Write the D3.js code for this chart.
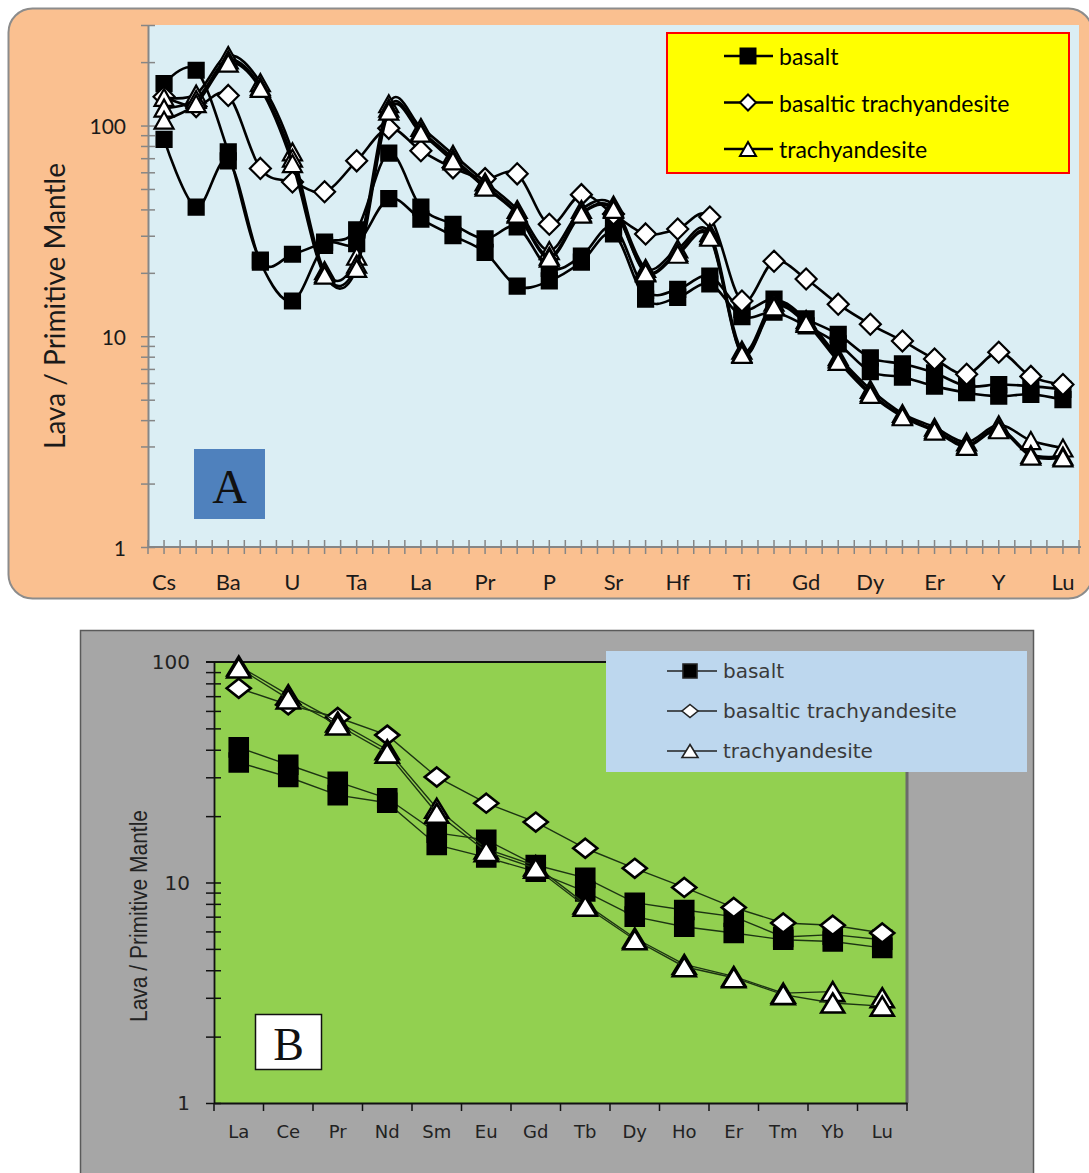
<!DOCTYPE html>
<html>
<head>
<meta charset="utf-8">
<script src="https://cdn.jsdelivr.net/npm/d3@7"></script>
<style>
  html, body { margin: 0; padding: 0; background: #ffffff; }
  svg { display: block; }
</style>
</head>
<body>
<svg id="chart" width="1089" height="1173"></svg>
<script>
// ---------- Panel A: multi-element spider diagram ----------
const elementsA = ["Cs","Rb","Ba","Th","U","Nb","Ta","K","La","Ce","Pr","Pb","P","Nd","Sr",
                   "Sm","Hf","Zr","Ti","Eu","Gd","Tb","Dy","Ho","Er","Tm","Y","Yb","Lu"];
const tickLabelsA = ["Cs","Ba","U","Ta","La","Pr","P","Sr","Hf","Ti","Gd","Dy","Er","Y","Lu"];

const basaltA1 = [158,183,75,23,24.5,28,32,74,41,34,29,33,21,24,33,16.5,16.7,19.3,13.4,15,12.1,10.2,7.9,7.4,6.7,5.8,5.9,5.8,5.6];
const basaltA2 = [86,41,68,22.5,14.7,27,27.5,45,36,30,25,17.3,18.3,22.5,30.6,15,15.3,17.7,12.4,13,11.2,9.2,6.8,6.4,5.8,5.4,5.2,5.3,5.0];
const btaA     = [137,123,139,62.6,54,48.5,68,97,76,63,56,59,34,47,38,30.6,32.3,36.8,14.7,22.7,18.7,14.2,11.4,9.5,7.8,6.6,8.4,6.45,5.9];
const taA1     = [136,141,215,160,75,20.5,24,127,98,73,54,40,25.5,40,42,21,26,31,8.6,14.5,12,8.0,5.6,4.3,3.7,3.15,3.8,3.2,2.95];
const taA2     = [121,133,205,153,70,19.8,22,121,94,70,52,38.5,24,38.5,40.5,20.2,25,30,8.3,14,11.7,7.8,5.4,4.2,3.6,3.05,3.65,2.75,2.7];
const taA3     = [106,127,198,150,66,19.5,21,117,92,68,51,38,23.5,38,40,20,24.5,29.5,8.2,13.8,11.5,7.6,5.3,4.15,3.55,3.0,3.6,2.7,2.65];

// ---------- Panel B: rare earth elements ----------
const elementsB = ["La","Ce","Pr","Nd","Sm","Eu","Gd","Tb","Dy","Ho","Er","Tm","Yb","Lu"];
const basaltB1 = [41,34.2,28.6,24.1,16.8,15.6,12,10.5,8.1,7.5,7.0,5.66,5.8,5.5];
const basaltB2 = [35,30.1,24.9,23,14.8,13,11.2,9.1,7.0,6.3,5.9,5.5,5.4,5.05];
const btaB     = [76,64,56,46.6,30.1,22.9,18.8,14.3,11.6,9.5,7.7,6.55,6.4,5.9];
const taB1     = [96,71,53.5,40,21.7,14.2,11.9,8.0,5.6,4.25,3.75,3.15,3.2,3.0];
const taB2     = [94,68,51.8,38.6,20.6,13.8,11.6,7.8,5.5,4.15,3.7,3.1,2.84,2.75];

const rockTypes = ["basalt","basaltic trachyandesite","trachyandesite"];
const yTickLabels = [1, 10, 100];
const yTitle = "Lava / Primitive Mantle";

const svg = d3.select("#chart");

// marker shapes centred on (0,0)
function markerPath(kind, w, h) {
  if (kind === "square") return `M${-w/2},${-h/2}h${w}v${h}h${-w}Z`;
  if (kind === "diamond") return `M0,${-h/2}L${w/2},0L0,${h/2}L${-w/2},0Z`;
  return `M0,${-h/2}L${w/2},${h/2}L${-w/2},${h/2}Z`;
}
const kindOf = { "basalt": "square", "basaltic trachyandesite": "diamond", "trachyandesite": "triangle" };

function minorLogTicks(lo, hi) {
  const t = [];
  for (let d = 1; d < hi; d *= 10)
    for (let m = 1; m <= 9; m++) { const v = m * d; if (v >= lo && v <= hi + 1e-9) t.push(v); }
  return t;
}

// ================= PANEL A =================
(function panelA() {
  const g = svg.append("g");
  g.append("rect").attr("x", 8.5).attr("y", 8.5).attr("width", 1084).attr("height", 590)
    .attr("rx", 24).attr("fill", "#fac090").attr("stroke", "#8c8c8c").attr("stroke-width", 2);

  const left = 148, right = 1079, top = 25, bottom = 547;
  g.append("rect").attr("x", left).attr("y", top).attr("width", right - left).attr("height", bottom - top)
    .attr("fill", "#dbeef4");

  const x = d3.scaleBand().domain(elementsA).range([left, right]);
  const cx = d => x(d) + x.bandwidth() / 2;
  const y = d3.scaleLog().domain([1, 300]).range([bottom, top]);

  // y axis
  const yAxis = d3.axisLeft(y).tickValues(minorLogTicks(1, 300)).tickSize(0).tickFormat("");
  const ya = g.append("g").attr("transform", `translate(${left},0)`).call(yAxis);
  ya.select(".domain").attr("stroke", "#868686").attr("stroke-width", 2);
  ya.selectAll(".tick line").remove();
  ya.selectAll(".tick").append("line").attr("x1", -7).attr("x2", 7)
    .attr("stroke", "#868686").attr("stroke-width", 1.5);
  g.selectAll(".ylabA").data(yTickLabels).join("text")
    .attr("x", 126).attr("y", d => y(d)).attr("text-anchor", "end").attr("dominant-baseline", "central")
    .attr("font-family", "Lato, 'Open Sans', sans-serif").attr("font-size", 21).attr("fill", "#1a1a1a")
    .text(d => d);

  // x axis with ticks at centres and band edges
  const xa = g.append("g").attr("transform", `translate(0,${bottom})`);
  xa.append("line").attr("x1", left).attr("x2", right + 2).attr("stroke", "#868686").attr("stroke-width", 2);
  const xt = [];
  elementsA.forEach(e => { xt.push(x(e)); xt.push(cx(e)); });
  xt.push(right);
  xa.selectAll("line.t").data(xt).join("line").attr("class", "t")
    .attr("x1", d => d).attr("x2", d => d).attr("y1", -7).attr("y2", 7)
    .attr("stroke", "#868686").attr("stroke-width", 1.5);
  g.selectAll(".xlabA").data(tickLabelsA).join("text")
    .attr("x", d => cx(d)).attr("y", 581).attr("text-anchor", "middle").attr("dominant-baseline", "central")
    .attr("font-family", "Lato, 'Open Sans', sans-serif").attr("font-size", 22).attr("fill", "#1a1a1a")
    .text(d => d);

  g.append("text").attr("transform", "translate(54,306) rotate(-90)")
    .attr("text-anchor", "middle").attr("dominant-baseline", "central")
    .attr("font-family", "Lato, 'Open Sans', sans-serif").attr("font-size", 28).attr("fill", "#1a1a1a")
    .text(yTitle);

  // panel letter
  g.append("rect").attr("x", 194).attr("y", 449).attr("width", 71).attr("height", 70).attr("fill", "#4f81bd");
  g.append("text").attr("x", 229.5).attr("y", 486).attr("text-anchor", "middle").attr("dominant-baseline", "central")
    .attr("font-family", "'Liberation Serif', 'DejaVu Serif', serif").attr("font-size", 48).attr("fill", "#111")
    .text("A");

  const series = [
    { type: "basalt", vals: basaltA1 },
    { type: "basalt", vals: basaltA2 },
    { type: "basaltic trachyandesite", vals: btaA },
    { type: "trachyandesite", vals: taA1 },
    { type: "trachyandesite", vals: taA2 },
    { type: "trachyandesite", vals: taA3 }
  ];
  const line = d3.line().x(d => cx(d.e)).y(d => y(d.v)).curve(d3.curveCardinal.tension(0));
  const sizes = { square: [15, 15], diamond: [21, 21], triangle: [19, 17] };
  series.forEach(s => {
    const pts = elementsA.map((e, i) => ({ e, v: s.vals[i] }));
    g.append("path").datum(pts).attr("d", line).attr("fill", "none")
      .attr("stroke", "#000").attr("stroke-width", 2.6);
    const k = kindOf[s.type];
    g.selectAll(null).data(pts).join("path")
      .attr("transform", d => `translate(${cx(d.e)},${y(d.v)})`)
      .attr("d", markerPath(k, sizes[k][0], sizes[k][1]))
      .attr("fill", k === "square" ? "#000" : "#fff").attr("stroke", "#000")
      .attr("stroke-width", 2.2).attr("stroke-linejoin", "miter");
  });

  // legend
  const lg = g.append("g");
  lg.append("rect").attr("x", 667).attr("y", 33).attr("width", 402).attr("height", 140)
    .attr("fill", "#ffff00").attr("stroke", "#ff0000").attr("stroke-width", 2);
  rockTypes.forEach((t, i) => {
    const yy = 56 + i * 46.5;
    const k = kindOf[t];
    lg.append("line").attr("x1", 724).attr("x2", 773).attr("y1", yy).attr("y2", yy)
      .attr("stroke", "#000").attr("stroke-width", 2.4);
    lg.append("path").attr("transform", `translate(748,${yy})`)
      .attr("d", markerPath(k, k === "square" ? 15 : 16, k === "square" ? 15 : (k === "diamond" ? 16 : 14)))
      .attr("fill", k === "square" ? "#000" : "#fff").attr("stroke", "#000").attr("stroke-width", 2);
    lg.append("text").attr("x", 779).attr("y", yy).attr("dominant-baseline", "central")
      .attr("font-family", "Lato, 'Open Sans', sans-serif").attr("font-size", 23).attr("fill", "#000")
      .text(t);
  });
})();

// ================= PANEL B =================
(function panelB() {
  const g = svg.append("g");
  g.append("rect").attr("x", 80.5).attr("y", 630.5).attr("width", 953).attr("height", 560)
    .attr("fill", "#a6a6a6").attr("stroke", "#5a5a5a").attr("stroke-width", 1.5);

  const left = 214, right = 907, top = 662, bottom = 1103;
  g.append("rect").attr("x", left).attr("y", top).attr("width", right - left).attr("height", bottom - top)
    .attr("fill", "#92d050");
  g.append("line").attr("x1", left - 8).attr("x2", right).attr("y1", top).attr("y2", top)
    .attr("stroke", "#111").attr("stroke-width", 1.8);
  g.append("line").attr("x1", right).attr("x2", right).attr("y1", top).attr("y2", bottom)
    .attr("stroke", "#6b6b6b").attr("stroke-width", 3);

  const x = d3.scaleBand().domain(elementsB).range([left, right]);
  const cx = d => x(d) + x.bandwidth() / 2;
  const y = d3.scaleLog().domain([1, 100]).range([bottom, top]);

  const ya = g.append("g").attr("transform", `translate(${left},0)`)
    .call(d3.axisLeft(y).tickValues(minorLogTicks(1, 100)).tickSize(0).tickFormat(""));
  ya.select(".domain").attr("stroke", "#111").attr("stroke-width", 1.8);
  ya.selectAll(".tick line").remove();
  ya.selectAll(".tick").append("line").attr("x1", -8).attr("x2", 7).attr("stroke", "#111").attr("stroke-width", 1.5);
  g.selectAll(".ylabB").data(yTickLabels).join("text")
    .attr("x", 190).attr("y", d => y(d)).attr("text-anchor", "end").attr("dominant-baseline", "central")
    .attr("font-family", "'DejaVu Sans', Verdana, sans-serif").attr("font-size", 20).attr("fill", "#222")
    .text(d => d);

  const xa = g.append("g").attr("transform", `translate(0,${bottom})`)
    .call(d3.axisBottom(x).tickSize(0).tickFormat(""));
  xa.select(".domain").attr("stroke", "#111").attr("stroke-width", 1.8);
  const edges = elementsB.map(e => x(e)).concat([right]);
  xa.selectAll("line.t").data(edges).join("line").attr("class", "t")
    .attr("x1", d => d).attr("x2", d => d).attr("y1", 0).attr("y2", 8)
    .attr("stroke", "#111").attr("stroke-width", 1.5);
  g.selectAll(".xlabB").data(elementsB).join("text")
    .attr("x", d => cx(d)).attr("y", 1131).attr("text-anchor", "middle").attr("dominant-baseline", "central")
    .attr("font-family", "'DejaVu Sans', Verdana, sans-serif").attr("font-size", 18).attr("fill", "#222")
    .text(d => d);

  g.append("text").attr("transform", "translate(139,916) rotate(-90)")
    .attr("text-anchor", "middle").attr("dominant-baseline", "central")
    .attr("font-family", "'Liberation Sans', Arial, sans-serif").attr("font-size", 23).attr("fill", "#222")
    .attr("textLength", 212).attr("lengthAdjust", "spacingAndGlyphs")
    .text(yTitle);

  g.append("rect").attr("x", 255.5).attr("y", 1014.5).attr("width", 66).attr("height", 55)
    .attr("fill", "#fff").attr("stroke", "#111").attr("stroke-width", 1.5);
  g.append("text").attr("x", 288.5).attr("y", 1044).attr("text-anchor", "middle").attr("dominant-baseline", "central")
    .attr("font-family", "'Liberation Serif', 'DejaVu Serif', serif").attr("font-size", 46).attr("fill", "#111")
    .text("B");

  const series = [
    { type: "basalt", vals: basaltB1 },
    { type: "basalt", vals: basaltB2 },
    { type: "basaltic trachyandesite", vals: btaB },
    { type: "trachyandesite", vals: taB1 },
    { type: "trachyandesite", vals: taB2 }
  ];
  const line = d3.line().x(d => cx(d.e)).y(d => y(d.v));
  const sizes = { square: [18, 18], diamond: [24, 19], triangle: [23, 19] };
  series.forEach(s => {
    const pts = elementsB.map((e, i) => ({ e, v: s.vals[i] }));
    g.append("path").datum(pts).attr("d", line).attr("fill", "none")
      .attr("stroke", "#1c3312").attr("stroke-width", 1.4);
    const k = kindOf[s.type];
    g.selectAll(null).data(pts).join("path")
      .attr("transform", d => `translate(${cx(d.e)},${y(d.v)})`)
      .attr("d", markerPath(k, sizes[k][0], sizes[k][1]))
      .attr("fill", k === "square" ? "#000" : "#fff").attr("stroke", "#000")
      .attr("stroke-width", 2.6);
  });

  const lg = g.append("g");
  lg.append("rect").attr("x", 606).attr("y", 651).attr("width", 421).attr("height", 121).attr("fill", "#bdd7ee");
  rockTypes.forEach((t, i) => {
    const yy = 671 + i * 40;
    const k = kindOf[t];
    lg.append("line").attr("x1", 667).attr("x2", 717).attr("y1", yy).attr("y2", yy)
      .attr("stroke", "#222").attr("stroke-width", 1.4);
    lg.append("path").attr("transform", `translate(690,${yy})`)
      .attr("d", markerPath(k, k === "square" ? 14 : 16, k === "square" ? 14 : 13))
      .attr("fill", k === "square" ? "#000" : "#fff").attr("stroke", "#222").attr("stroke-width", 1.6);
    lg.append("text").attr("x", 723).attr("y", yy).attr("dominant-baseline", "central")
      .attr("font-family", "'DejaVu Sans', Verdana, sans-serif").attr("font-size", 20).attr("fill", "#3a3a3a")
      .text(t);
  });
})();
</script>
</body>
</html>
